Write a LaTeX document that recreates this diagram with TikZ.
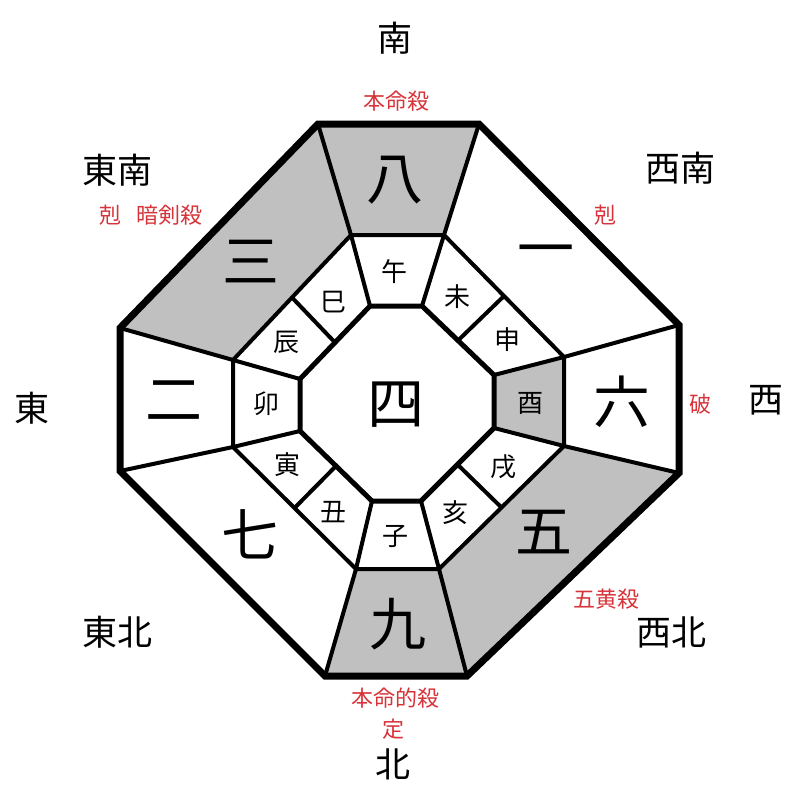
\documentclass[tikz,border=0pt]{standalone}
\usepackage{fontspec}
\newfontfamily\cjk{Noto Sans CJK JP}
\usetikzlibrary{calc}
\definecolor{cellgray}{RGB}{192,192,192}
\definecolor{markred}{RGB}{214,52,58}

\begin{document}
\begin{tikzpicture}[x=1pt,y=-1pt,
  numeral/.style={inner sep=0pt, font=\cjk\fontsize{57}{57}\selectfont},
  branch/.style={inner sep=0pt, font=\cjk\fontsize{26}{26}\selectfont},
  compass/.style={inner sep=0pt, font=\cjk\fontsize{35}{35}\selectfont},
  redlabel/.style={inner sep=0pt, text=markred, font=\cjk\fontsize{22}{22}\selectfont}]
\def\wo{7}
\def\wm{4}
\def\wi{5}
\useasboundingbox (0,0) rectangle (800,800);

% outer octagon
\coordinate (o1) at (318,124);
\coordinate (o2) at (479,124);
\coordinate (o3) at (679,325);
\coordinate (o4) at (679,473);
\coordinate (o5) at (467,676);
\coordinate (o6) at (325,676);
\coordinate (o7) at (120,471);
\coordinate (o8) at (120,328);
% middle octagon
\coordinate (m1) at (351,235);
\coordinate (m2) at (444,235);
\coordinate (m3) at (564,357);
\coordinate (m4) at (564,446);
\coordinate (m5) at (439,569);
\coordinate (m6) at (356,569);
\coordinate (m7) at (233,447);
\coordinate (m8) at (233,360);
% inner octagon
\coordinate (i1) at (370,306);
\coordinate (i2) at (422,306);
\coordinate (i3) at (494,375);
\coordinate (i4) at (494,428);
\coordinate (i5) at (421,501);
\coordinate (i6) at (372,501);
\coordinate (i7) at (300,431);
\coordinate (i8) at (300,379);

\fill [cellgray] (o1) -- (o2) -- (m2) -- (m1) -- cycle;
\fill [cellgray] (o4) -- (o5) -- (m5) -- (m4) -- cycle;
\fill [cellgray] (o5) -- (o6) -- (m6) -- (m5) -- cycle;
\fill [cellgray] (o8) -- (o1) -- (m1) -- (m8) -- cycle;
\fill [cellgray] (m3) -- (m4) -- (i4) -- (i3) -- cycle;

\draw [line width=\wm] (o1) -- (m1);
\draw [line width=\wm] (o2) -- (m2);
\draw [line width=\wm] (o3) -- (m3);
\draw [line width=\wm] (o4) -- (m4);
\draw [line width=\wm] (o5) -- (m5);
\draw [line width=\wm] (o6) -- (m6);
\draw [line width=\wm] (o7) -- (m7);
\draw [line width=\wm] (o8) -- (m8);
\draw [line width=\wm] (m1) -- (i1);
\draw [line width=\wm] (m2) -- (i2);
\draw [line width=\wm] (m3) -- (i3);
\draw [line width=\wm] (m4) -- (i4);
\draw [line width=\wm] (m5) -- (i5);
\draw [line width=\wm] (m6) -- (i6);
\draw [line width=\wm] (m7) -- (i7);
\draw [line width=\wm] (m8) -- (i8);
\draw [line width=\wm] ($(m2)!0.5!(m3)$) -- ($(i2)!0.5!(i3)$);
\draw [line width=\wm] ($(m4)!0.5!(m5)$) -- ($(i4)!0.5!(i5)$);
\draw [line width=\wm] ($(m6)!0.5!(m7)$) -- ($(i6)!0.5!(i7)$);
\draw [line width=\wm] ($(m8)!0.5!(m1)$) -- ($(i8)!0.5!(i1)$);
\draw [line width=\wm] (m1) -- (m2) -- (m3) -- (m4) -- (m5) -- (m6) -- (m7) -- (m8) -- cycle;
\draw [line width=\wi] (i1) -- (i2) -- (i3) -- (i4) -- (i5) -- (i6) -- (i7) -- (i8) -- cycle;
\draw [line width=\wo] (o1) -- (o2) -- (o3) -- (o4) -- (o5) -- (o6) -- (o7) -- (o8) -- cycle;

\node [numeral, name=center] at (396,405) {四};
\node [numeral, name=n8] at (395,180) {八};
\node [numeral, name=n1] at (546,257) {一};
\node [numeral, name=n6] at (622,402) {六};
\node [numeral, name=n5] at (544,532) {五};
\node [numeral, name=n9] at (398,624) {九};
\node [numeral, name=n7] at (250,534) {七};
\node [numeral, name=n2] at (174,401) {二};
\node [numeral, name=n3] at (251,262) {三};

\node [branch, name=uma]   at (394,272) {午};
\node [branch, name=hitsuji] at (457,297) {未};
\node [branch, name=saru]  at (507,340) {申};
\node [branch, name=tori]  at (530,403) {酉};
\node [branch, name=inu]   at (503,467) {戌};
\node [branch, name=i]     at (455,513) {亥};
\node [branch, name=ne]    at (395,536) {子};
\node [branch, name=ushi]  at (333,512) {丑};
\node [branch, name=tora]  at (287,465) {寅};
\node [branch, name=u]     at (266,404) {卯};
\node [branch, name=tatsu] at (286,342) {辰};
\node [branch, name=mi]    at (333,302) {巳};

\node [compass, name=dS]  at (395,38) {南};
\node [compass, name=dSE] at (117,170) {東南};
\node [compass, name=dSW] at (680,168) {西南};
\node [compass, name=dE]  at (32,408) {東};
\node [compass, name=dW]  at (766,400) {西};
\node [compass, name=dNE] at (117,632) {東北};
\node [compass, name=dNW] at (671,632) {西北};
\node [compass, name=dN]  at (393,764) {北};

\node [redlabel, name=rS]  at (396,101) {本命殺};
\node [redlabel, name=rSE] at (151,215) {剋\hspace{0.65em}暗剣殺};
\node [redlabel, name=rSW] at (605,215) {剋};
\node [redlabel, name=rW]  at (700,404) {破};
\node [redlabel, name=rNW] at (606,599) {五黄殺};
\node [redlabel, name=rN]  at (395,698) {本命的殺};
\node [redlabel, name=rN2] at (393,729) {定};
\end{tikzpicture}
\end{document}
